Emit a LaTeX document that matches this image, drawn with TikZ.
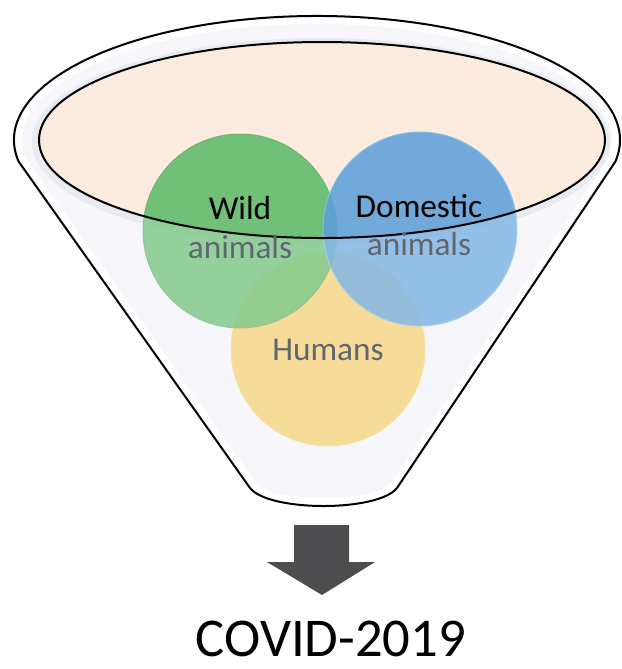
\documentclass[tikz,border=0pt]{standalone}
\usepackage{fontspec}
\setmainfont{Carlito}

\tikzset{every picture/.style={line width=0.75pt}}
\tikzset{
  lbl/.style={anchor=base, inner sep=0pt, font=\fontsize{25}{30}\selectfont},
  lblgray/.style={lbl, text={rgb, 255:red, 96; green, 102; blue, 112 }},
}
% outline of the funnel (rim arc, cone sides, rounded spout)
\newcommand{\funnelpath}{(18.6,161.5) arc[start angle=170, end angle=370, x radius=303, y radius=124] -- (397,488) .. controls (378,512) and (269,512) .. (250,488) -- cycle}

\begin{document}
\begin{tikzpicture}[x=0.75pt,y=0.75pt,yscale=-1,xscale=1]
\useasboundingbox (0,0) rectangle (622,669);

%Shape: Funnel body
\fill [fill={rgb, 255:red, 243; green, 244; blue, 250 }] \funnelpath ;
\draw [white, line width=12] \funnelpath ;
%Shape: Ellipse shadow
\draw [black, draw opacity=0.06, line width=6] (321,142) ellipse [x radius=285, y radius=100];
%Shape: Ellipse
\fill [fill={rgb, 255:red, 252; green, 235; blue, 223 }] (322,140) ellipse [x radius=283, y radius=98];

%Shape: Circle [id:humans]
\draw [color={rgb, 255:red, 236; green, 222; blue, 120 }, draw opacity=0.8, fill={rgb, 255:red, 245; green, 205; blue, 106 }, fill opacity=0.9] (328,349) circle (97);
%Shape: Circle [id:wild]
\draw [color={rgb, 255:red, 100; green, 175; blue, 110 }, draw opacity=0.8, fill={rgb, 255:red, 89; green, 185; blue, 102 }, fill opacity=0.85] (240,231) circle (97);
%Shape: Circle [id:domestic]
\draw [color={rgb, 255:red, 130; green, 195; blue, 230 }, draw opacity=0.9, fill={rgb, 255:red, 91; green, 158; blue, 219 }, fill opacity=0.85] (420,229) circle (97);

%Shape: Front glass
\fill [white, fill opacity=0.25, even odd rule] \funnelpath (322,140) ellipse [x radius=283, y radius=98];

%Shape: Outlines
\draw [line width=1.5] (322,140) ellipse [x radius=283, y radius=98];
\draw [line width=1.5] \funnelpath ;

%Shape: Down Arrow
\fill [fill={rgb, 255:red, 77; green, 77; blue, 79 }] (294,525) -- (349,525) -- (349,562) -- (375,562) -- (322,595) -- (267,562) -- (294,562) -- cycle ;

% Text Node
\node (wild) [lbl] at (240,219) {Wild};
% Text Node
\node (wildan) [lblgray] at (240,258) {animals};
% Text Node
\node (dom) [lbl] at (419,217) {Domestic};
% Text Node
\node (doman) [lblgray] at (419,255) {animals};
% Text Node
\node (hum) [lblgray] at (328,360) {Humans};
% Text Node
\node (covid) [anchor=base, inner sep=0pt, font=\fontsize{41}{49}\selectfont] at (331,656) {COVID-2019};

\end{tikzpicture}
\end{document}
